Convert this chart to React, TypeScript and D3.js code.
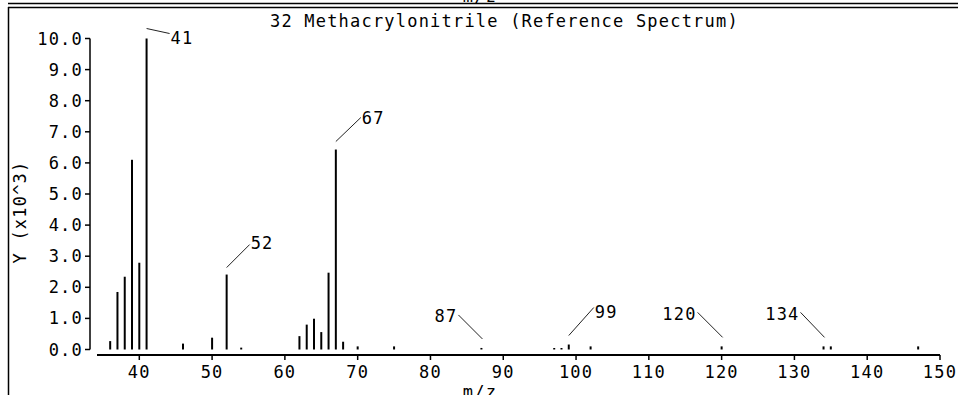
import React from "react";
import * as d3 from "d3";

const masses = [36, 37, 38, 39, 40, 41, 46, 50, 52, 54, 62, 63, 64, 65, 66, 67, 68, 70, 75, 87, 97, 98, 99, 102, 120, 134, 135, 147];
const intensities = [0.27, 1.85, 2.34, 6.1, 2.79, 10.0, 0.19, 0.38, 2.41, 0.06, 0.43, 0.8, 0.99, 0.56, 2.47, 6.43, 0.25, 0.1, 0.1, 0.05, 0.04, 0.04, 0.16, 0.1, 0.1, 0.1, 0.1, 0.1];
const xTicks = [40, 50, 60, 70, 80, 90, 100, 110, 120, 130, 140, 150];
const yTicks = [0, 1, 2, 3, 4, 5, 6, 7, 8, 9, 10];
const labelledMasses = [41, 52, 67, 87, 99, 120, 134];
const title = "32 Methacrylonitrile (Reference Spectrum)";
const xLabel = "m/z";
const yLabel = "Y (x10^3)";

// label leader layout (pixel offsets from peak top)
const labelLayout: Record<number, { sx: number; sy: number; ex: number; ey: number; anchor: string; ty: number }> = {
  41: { sx: 0, sy: -10, ex: 23, ey: -5, anchor: "start", ty: -1 },
  52: { sx: 0, sy: -7, ex: 23, ey: -30, anchor: "start", ty: -32 },
  67: { sx: 0, sy: -8, ex: 25, ey: -32, anchor: "start", ty: -32 },
  87: { sx: 1, sy: -9, ex: -23, ey: -33, anchor: "end", ty: -32 },
  99: { sx: 0, sy: -9, ex: 25, ey: -37, anchor: "start", ty: -33 },
  120: { sx: 1, sy: -9, ex: -24, ey: -34, anchor: "end", ty: -32 },
  134: { sx: 1, sy: -9, ex: -23, ey: -34, anchor: "end", ty: -32 },
};

const FONT = "'DejaVu Sans Mono', monospace";
const FS = 17;
const LS = 1.2;

export default function App() {
  const x = d3.scaleLinear().domain([40, 150]).range([139.3, 940]);
  const y = d3.scaleLinear().domain([0, 10]).range([349.5, 38.5]);
  const axisY = 355;
  const xStart = 97;
  const fmt = d3.format(".1f");

  const textProps = {
    fontFamily: FONT,
    fontSize: FS,
    letterSpacing: LS,
    fill: "#000",
  } as any;

  return (
    <svg
      width={958}
      height={395}
      style={{ position: "absolute", left: 0, top: 0, background: "#fff" }}
    >
      <rect x={0} y={0} width={958} height={395} fill="#fff" />
      {/* clipped label of previous panel */}
      <text {...textProps} x={480} y={1.5} textAnchor="middle">{xLabel}</text>
      {/* frame lines */}
      <line x1={8} x2={958} y1={3.5} y2={3.5} stroke="#000" strokeWidth={1.5} />
      <line x1={8} x2={958} y1={7.5} y2={7.5} stroke="#000" strokeWidth={1.5} />
      <line x1={8.5} x2={8.5} y1={7} y2={395} stroke="#000" strokeWidth={1.5} />

      {/* title */}
      <text {...textProps} x={270} y={27}>{title}</text>

      {/* y axis */}
      <line x1={90} x2={90} y1={y(10)} y2={y(0)} stroke="#000" strokeWidth={1.5} />
      {yTicks.map((t) => (
        <g key={t}>
          <line x1={85} x2={90} y1={y(t)} y2={y(t)} stroke="#000" strokeWidth={1.5} />
          <text {...textProps} x={83} y={y(t) + 6} textAnchor="end">{fmt(t)}</text>
        </g>
      ))}
      <text
        {...textProps}
        transform={`translate(26,${212}) rotate(-90)`}
        textAnchor="middle"
      >
        {yLabel}
      </text>

      {/* x axis */}
      <line x1={xStart} x2={x(150)} y1={axisY} y2={axisY} stroke="#000" strokeWidth={2} />
      {xTicks.map((t) => (
        <g key={t}>
          <line x1={x(t)} x2={x(t)} y1={axisY} y2={axisY + 5} stroke="#000" strokeWidth={1.5} />
          <text {...textProps} x={x(t)} y={378} textAnchor="middle">{String(t)}</text>
        </g>
      ))}
      <text {...textProps} x={480} y={398} textAnchor="middle">{xLabel}</text>

      {/* peaks */}
      {masses.map((m, i) => (
        <line
          key={m}
          x1={x(m)}
          x2={x(m)}
          y1={y(0)}
          y2={Math.min(y(intensities[i]), y(0) - 1.5)}
          stroke="#000"
          strokeWidth={2}
        />
      ))}

      {/* annotations */}
      {labelledMasses.map((m) => {
        const i = masses.indexOf(m);
        const px = x(m);
        const py = y(intensities[i]);
        const L = labelLayout[m];
        const tx = px + L.ex + (L.anchor === "start" ? 1 : -1);
        return (
          <g key={m}>
            <line
              x1={px + L.sx}
              y1={py + L.sy}
              x2={px + L.ex}
              y2={py + L.ey}
              stroke="#222"
              strokeWidth={1}
            />
            <text {...textProps} x={tx} y={py + L.ty + 6} textAnchor={L.anchor}>
              {String(m)}
            </text>
          </g>
        );
      })}
    </svg>
  );
}
